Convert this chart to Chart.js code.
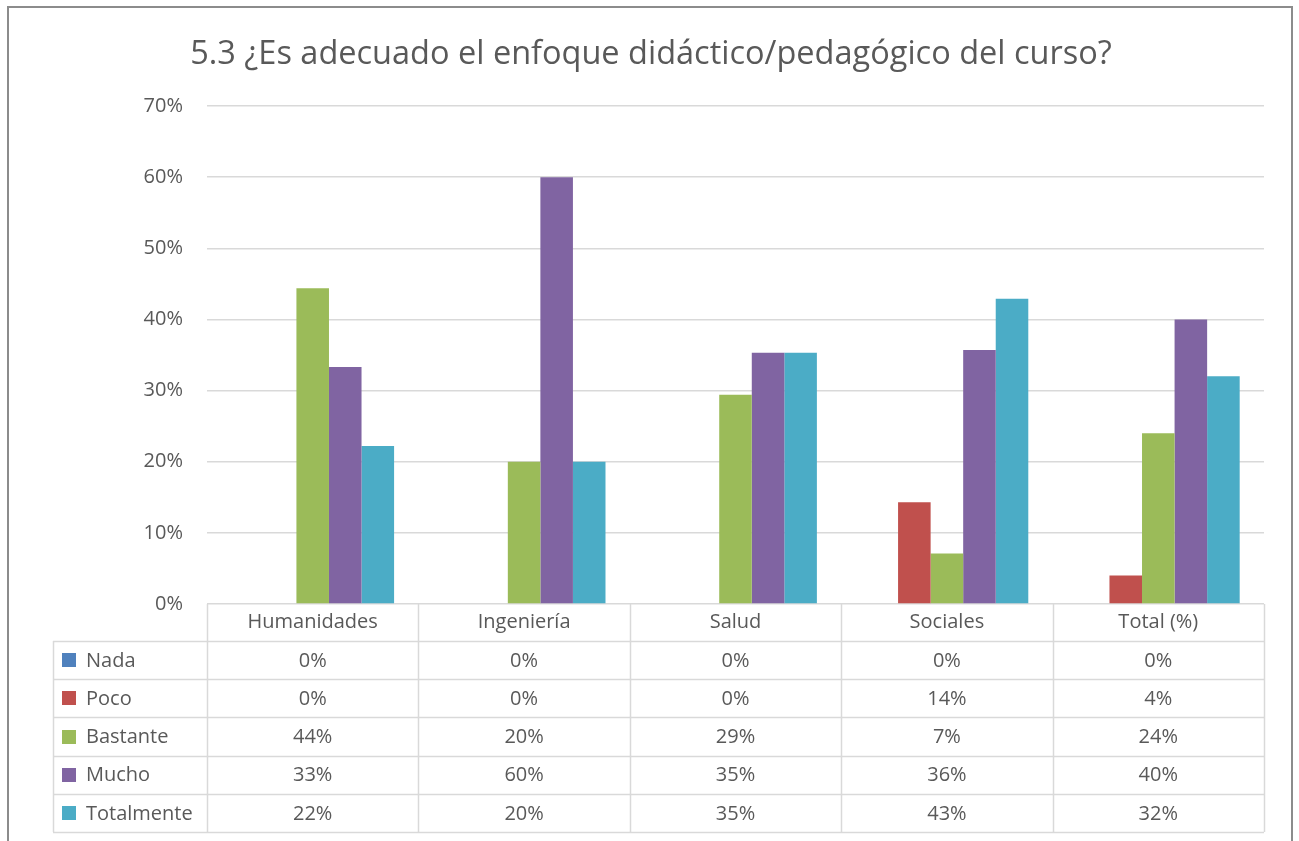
<!DOCTYPE html>
<html>
<head>
<meta charset="utf-8">
<title>5.3 ¿Es adecuado el enfoque didáctico/pedagógico del curso?</title>
<script src="https://cdn.jsdelivr.net/npm/chart.js@4.4.1/dist/chart.umd.min.js"></script>
<style>
  html, body { margin: 0; padding: 0; background: #fff; }
  canvas { display: block; }
</style>
</head>
<body>
<canvas id="chart" width="1299" height="841"></canvas>
<script>
// ---------------------------------------------------------------------------
// Data (percent of answers per area)
// ---------------------------------------------------------------------------
const titleText = '5.3 ¿Es adecuado el enfoque didáctico/pedagógico del curso?';
const categories = ['Humanidades', 'Ingeniería', 'Salud', 'Sociales', 'Total (%)'];
const seriesNames = ['Nada', 'Poco', 'Bastante', 'Mucho', 'Totalmente'];
const nada       = [0, 0, 0, 0, 0];
const poco       = [0, 0, 0, 14.3, 4];
const bastante   = [44.4, 20, 29.4, 7.1, 24];
const mucho      = [33.3, 60, 35.3, 35.7, 40];
const totalmente = [22.2, 20, 35.3, 42.9, 32];
const yTicks = [0, 10, 20, 30, 40, 50, 60, 70];

const seriesValues = [nada, poco, bastante, mucho, totalmente];
const seriesColors = ['#4F81BD', '#C0504D', '#9BBB59', '#8064A2', '#4BACC6'];

const TEXT = '#595959';
const GRID = '#d9d9d9';
const FONT = "'Open Sans', 'DejaVu Sans', sans-serif";

// table geometry under the plot
const TABLE_HEADER_H = 37;
const TABLE_ROW_H = 38.2;
const LEGEND_COL_LEFT = 53;

// ---------------------------------------------------------------------------
// Plugins
// ---------------------------------------------------------------------------
const frameBorder = {
  id: 'frameBorder',
  beforeDraw(chart) {
    const ctx = chart.ctx;
    ctx.save();
    ctx.fillStyle = '#fff';
    ctx.fillRect(0, 0, chart.width, chart.height);
    ctx.strokeStyle = '#8c8c8c';
    ctx.lineWidth = 2;
    ctx.strokeRect(8, 7, 1284, chart.height + 20);
    ctx.restore();
  }
};

const dataTable = {
  id: 'dataTable',
  afterDraw(chart) {
    const ctx = chart.ctx;
    const x = chart.scales.x;
    const area = chart.chartArea;
    const n = categories.length;
    const colW = (area.right - area.left) / n;
    const top = area.bottom;
    const rowsTop = top + TABLE_HEADER_H;
    const bottom = rowsTop + TABLE_ROW_H * seriesNames.length;

    ctx.save();
    ctx.strokeStyle = GRID;
    ctx.lineWidth = 1.5;

    // vertical lines
    ctx.beginPath();
    for (let i = 0; i <= n; i++) {
      const px = Math.round(area.left + i * colW) + 0.5;
      ctx.moveTo(px, top);
      ctx.lineTo(px, bottom);
    }
    ctx.moveTo(LEGEND_COL_LEFT + 0.5, rowsTop);
    ctx.lineTo(LEGEND_COL_LEFT + 0.5, bottom);

    // horizontal lines
    for (let r = 0; r <= seriesNames.length; r++) {
      const py = Math.round(rowsTop + r * TABLE_ROW_H) + 0.5;
      ctx.moveTo(LEGEND_COL_LEFT, py);
      ctx.lineTo(area.right, py);
    }
    ctx.stroke();

    // cells
    ctx.font = '20px ' + FONT;
    ctx.fillStyle = TEXT;
    ctx.textBaseline = 'middle';
    seriesNames.forEach((name, r) => {
      const cy = rowsTop + (r + 0.5) * TABLE_ROW_H;
      const ds = chart.data.datasets[r];

      // legend key + name
      ctx.fillStyle = ds.backgroundColor;
      ctx.fillRect(62, Math.round(cy - 7), 14, 14);
      ctx.fillStyle = TEXT;
      ctx.textAlign = 'left';
      ctx.fillText(name, 86, cy + 1);

      // values
      ctx.textAlign = 'center';
      ds.data.forEach((v, c) => {
        ctx.fillText(Math.round(v) + '%', x.getPixelForValue(c), cy + 1);
      });
    });
    ctx.restore();
  }
};

// ---------------------------------------------------------------------------
// Chart
// ---------------------------------------------------------------------------
const ctx = document.getElementById('chart').getContext('2d');

new Chart(ctx, {
  type: 'bar',
  data: {
    labels: categories,
    datasets: seriesNames.map((name, i) => ({
      label: name,
      data: seriesValues[i],
      backgroundColor: seriesColors[i],
      borderWidth: 0,
      categoryPercentage: 0.77,
      barPercentage: 1
    }))
  },
  options: {
    responsive: false,
    devicePixelRatio: 1,
    animation: false,
    // left padding keeps the title centred on the frame like the original
    layout: { padding: { left: 38, right: 35, top: 0, bottom: 9 } },
    plugins: {
      legend: { display: false },
      tooltip: { enabled: false },
      title: {
        display: true,
        text: titleText,
        color: TEXT,
        font: { family: FONT, size: 32.5, weight: 'normal' },
        padding: { top: 35, bottom: 32 }
      }
    },
    scales: {
      x: {
        grid: { display: false, drawTicks: false },
        border: { display: false },
        ticks: {
          color: TEXT,
          font: { family: FONT, size: 20 },
          padding: 6,
          maxRotation: 0,
          autoSkip: false
        },
        afterFit(scale) { scale.height = TABLE_HEADER_H + TABLE_ROW_H * seriesNames.length; }
      },
      y: {
        min: 0,
        max: 70,
        afterBuildTicks(scale) { scale.ticks = yTicks.map(v => ({ value: v })); },
        grid: { color: GRID, lineWidth: 1.5, drawTicks: false },
        border: { display: false },
        ticks: {
          color: TEXT,
          font: { family: FONT, size: 20 },
          padding: 24,
          callback: v => v + '%'
        },
        afterFit(scale) { scale.width = 169; }
      }
    }
  },
  plugins: [frameBorder, dataTable]
});
</script>
</body>
</html>
